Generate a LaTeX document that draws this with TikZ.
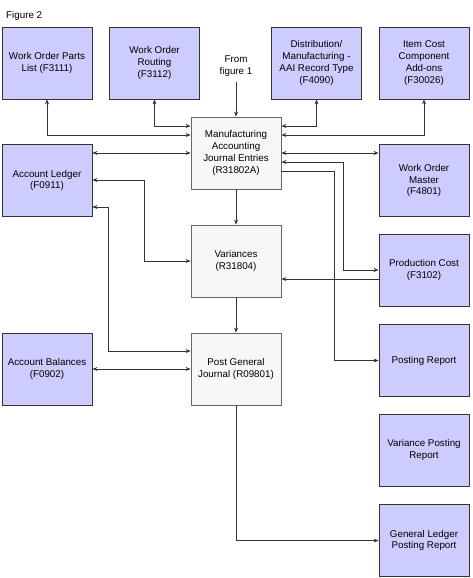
\documentclass[tikz,border=0pt]{standalone}
\usepackage{fontspec}
\setmainfont{Liberation Sans}
\usetikzlibrary{arrows.meta,positioning,calc}

\definecolor{tblfill}{HTML}{CCCCFF}
\definecolor{progfill}{HTML}{F7F7F7}
\definecolor{ink}{HTML}{333333}

\begin{document}
\begin{tikzpicture}[x=1pt,y=-1pt,font=\fontsize{9.8}{11.8}\selectfont,>={Stealth[length=5pt,width=4pt]},
  tbl/.style={draw=ink,fill=tblfill,line width=0.8pt,minimum width=90pt,minimum height=72pt,align=center,inner sep=2pt},
  prg/.style={tbl,draw=black!60,fill=progfill},
  link/.style={<->,draw=ink,line width=0.7pt},
  flow/.style={->,draw=ink,line width=0.7pt},
  lab/.style={align=center,inner sep=0pt}]
  \useasboundingbox (0,0) rectangle (472,578);
  \node[lab,anchor=base west] (fig) at (6,19) {Figure 2};
  % tables and reports
  \foreach \x/\y/\n/\t in {
    47/63/wopl/{Work Order Parts\\List (F3111)},
    154.5/63/wor/{Work Order\\Routing\\(F3112)},
    316.5/63/dist/{Distribution/\\Manufacturing -\\AAI Record Type\\(F4090)},
    424/63/item/{Item Cost\\Component\\Add-ons\\(F30026)},
    47/180.5/al/{Account Ledger\\(F0911)},
    424/180.5/wom/{Work Order\\Master\\(F4801)},
    424/270/pc/{Production Cost\\(F3102)},
    47/369/ab/{Account Balances\\(F0902)},
    424/360.5/pr/{Posting Report},
    424/450/vpr/{Variance Posting\\Report},
    424/540.5/glpr/{General Ledger\\Posting Report}}{
    \node[tbl] (\n) at (\x,\y) {\t};
  }
  % programs
  \node[prg] (manuf) at (236,153) {Manufacturing\\Accounting\\Journal Entries\\(R31802A)};
  \node[prg] (var) at (236,261) {Variances\\(R31804)};
  \node[prg] (pgj) at (236,369) {Post General\\Journal (R09801)};
  \node[lab,anchor=south] (from) at (236,77) {From\\figure 1};
  \draw[flow] ([yshift=-5pt]from.south) -- (manuf.north);
  % left side
  \draw[link] (wopl.south) |- ([yshift=18pt]manuf.west);
  \draw[link] (wor.south) |- ([yshift=27pt]manuf.west);
  \draw[link] ([yshift=27.5pt]al.east) -- (manuf.west);
  \draw[link] ([yshift=.5pt]al.east) -| ([xshift=-46pt]var.west) -- (var.west);
  \draw[link] ([yshift=-26.5pt]al.east) -| ([xshift=-82pt,yshift=18pt]pgj.west) -- ([yshift=18pt]pgj.west);
  \draw[link] (ab.east) -- (pgj.west);
  % middle
  \draw[flow] (manuf.south) -- (var.north);
  \draw[flow] (var.south) -- (pgj.north);
  \draw[flow] (pgj.south) |- (glpr.west);
  % right side
  \draw[link] (dist.south) |- ([yshift=27pt]manuf.east);
  \draw[link] (item.south) |- ([yshift=18pt]manuf.east);
  \draw[link] (manuf.east) -- (manuf.east -| wom.west);
  \draw[link] ([yshift=-9pt]manuf.east) -| ([xshift=-35pt]pc.west) -- (pc.west);
  \draw[flow] ([yshift=-18pt]manuf.east) -| ([xshift=-44pt]pr.west) -- (pr.west);
  \draw[flow] ([yshift=-9pt]pc.west) -- ([yshift=-18pt]var.east);
\end{tikzpicture}
\end{document}
